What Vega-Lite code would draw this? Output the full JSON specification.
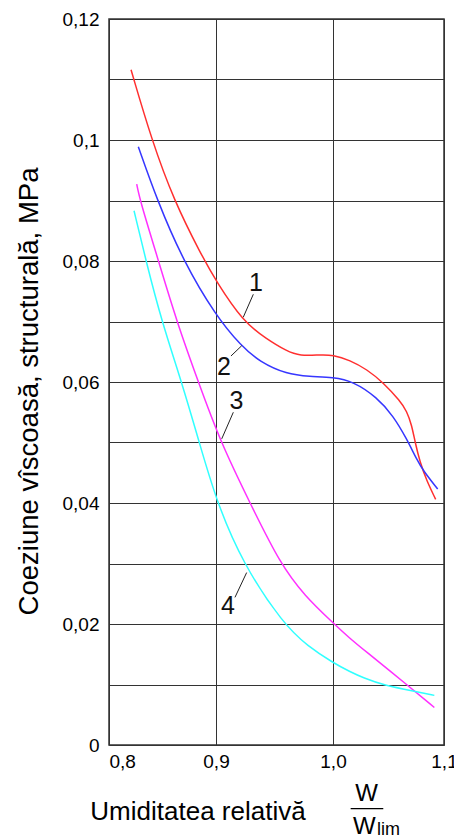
{
  "$schema": "https://vega.github.io/schema/vega-lite/v6.json",
  "width": 335,
  "height": 726,
  "autosize": "none",
  "padding": {"left": 109, "top": 19, "right": 10, "bottom": 92},
  "background": "white",
  "config": {"font": "Liberation Sans", "view": {"stroke": "#333", "strokeWidth": 1.5}},
  "datasets": {
    "curves": [
      {"c": "1", "x": 0.8206, "y": 0.1116}, {"c": "1", "x": 0.8399, "y": 0.1}, {"c": "1", "x": 0.8607, "y": 0.09},
      {"c": "1", "x": 0.886, "y": 0.0811}, {"c": "1", "x": 0.9, "y": 0.0767}, {"c": "1", "x": 0.9231, "y": 0.07},
      {"c": "1", "x": 0.9433, "y": 0.0671}, {"c": "1", "x": 0.9604, "y": 0.0651}, {"c": "1", "x": 0.9718, "y": 0.0643},
      {"c": "1", "x": 0.9889, "y": 0.0645}, {"c": "1", "x": 1.0, "y": 0.0645}, {"c": "1", "x": 1.0153, "y": 0.0636},
      {"c": "1", "x": 1.0304, "y": 0.0621}, {"c": "1", "x": 1.0453, "y": 0.0599}, {"c": "1", "x": 1.0607, "y": 0.0568},
      {"c": "1", "x": 1.0664, "y": 0.0552}, {"c": "1", "x": 1.0709, "y": 0.0529}, {"c": "1", "x": 1.0739, "y": 0.0501},
      {"c": "1", "x": 1.0784, "y": 0.0467}, {"c": "1", "x": 1.0844, "y": 0.0437}, {"c": "1", "x": 1.0925, "y": 0.0406},
      {"c": "2", "x": 0.8274, "y": 0.0989}, {"c": "2", "x": 0.8451, "y": 0.09}, {"c": "2", "x": 0.8694, "y": 0.08},
      {"c": "2", "x": 0.9, "y": 0.0709}, {"c": "2", "x": 0.9214, "y": 0.066}, {"c": "2", "x": 0.9376, "y": 0.0633},
      {"c": "2", "x": 0.9604, "y": 0.0613}, {"c": "2", "x": 0.98, "y": 0.0609}, {"c": "2", "x": 1.0, "y": 0.0608},
      {"c": "2", "x": 1.0183, "y": 0.0601}, {"c": "2", "x": 1.0394, "y": 0.0575}, {"c": "2", "x": 1.0543, "y": 0.0544},
      {"c": "2", "x": 1.0664, "y": 0.0506}, {"c": "2", "x": 1.0754, "y": 0.0472}, {"c": "2", "x": 1.0814, "y": 0.0453},
      {"c": "2", "x": 1.0943, "y": 0.0423},
      {"c": "3", "x": 0.8259, "y": 0.0927}, {"c": "3", "x": 0.829, "y": 0.09}, {"c": "3", "x": 0.8461, "y": 0.0801},
      {"c": "3", "x": 0.8633, "y": 0.07}, {"c": "3", "x": 0.8835, "y": 0.06}, {"c": "3", "x": 0.904, "y": 0.05},
      {"c": "3", "x": 0.9291, "y": 0.04}, {"c": "3", "x": 0.9547, "y": 0.03}, {"c": "3", "x": 0.976, "y": 0.0246},
      {"c": "3", "x": 1.0, "y": 0.0202}, {"c": "3", "x": 1.0153, "y": 0.0176}, {"c": "3", "x": 1.0273, "y": 0.0158},
      {"c": "3", "x": 1.0664, "y": 0.01}, {"c": "3", "x": 1.0913, "y": 0.0062},
      {"c": "4", "x": 0.8234, "y": 0.0883}, {"c": "4", "x": 0.8346, "y": 0.08}, {"c": "4", "x": 0.8493, "y": 0.07},
      {"c": "4", "x": 0.8679, "y": 0.06}, {"c": "4", "x": 0.8844, "y": 0.05}, {"c": "4", "x": 0.9, "y": 0.0405},
      {"c": "4", "x": 0.9228, "y": 0.03}, {"c": "4", "x": 0.9575, "y": 0.02}, {"c": "4", "x": 0.9786, "y": 0.0163},
      {"c": "4", "x": 1.0, "y": 0.0136}, {"c": "4", "x": 1.0153, "y": 0.0121}, {"c": "4", "x": 1.0273, "y": 0.0111},
      {"c": "4", "x": 1.0453, "y": 0.0099}, {"c": "4", "x": 1.0754, "y": 0.0088}, {"c": "4", "x": 1.0913, "y": 0.0082}
    ],
    "leaders": [
      {"x1": 0.9233, "y1": 0.0707, "x2": 0.9319, "y2": 0.0745},
      {"x1": 0.9128, "y1": 0.0643, "x2": 0.922, "y2": 0.066},
      {"x1": 0.9049, "y1": 0.0506, "x2": 0.9148, "y2": 0.055},
      {"x1": 0.9162, "y1": 0.0244, "x2": 0.9262, "y2": 0.0285}
    ],
    "labels": [
      {"t": "1", "x": 0.9342, "y": 0.0764},
      {"t": "2", "x": 0.9068, "y": 0.0625},
      {"t": "3", "x": 0.9175, "y": 0.0568},
      {"t": "4", "x": 0.9103, "y": 0.0229}
    ],
    "fracTop": [{"t": "W", "x": 1.0302, "y": -0.00926}],
    "fracBottom": [{"t": "W", "x": 1.018, "y": -0.01477}],
    "fracSub": [{"t": "lim", "x": 1.0396, "y": -0.0149}],
    "fracLine": [{"x1": 1.0159, "x2": 1.0453, "y": -0.01052}]
  },
  "layer": [
    {
      "data": {"name": "curves"},
      "mark": {"type": "line", "interpolate": "basis", "strokeWidth": 1.5},
      "encoding": {
        "x": {
          "field": "x", "type": "quantitative",
          "scale": {"type": "linear", "domain": [0.8, 0.9, 1.0, 1.1], "range": [0, 107, 224, 335], "nice": false, "zero": false},
          "axis": {
            "values": [0.8, 0.9, 1.0, 1.1],
            "labelExpr": "replace(format(datum.value, '.1f'), '.', ',')",
            "grid": true, "gridColor": "#333", "gridWidth": 1,
            "domain": false, "ticks": false, "tickSize": 0,
            "labelPadding": 7, "labelFontSize": 19, "labelColor": "#000",
            "labelFlush": false,
            "labelAlign": {"condition": {"test": "datum.value < 0.85", "value": "left"}, "value": "center"},
            "title": "Umiditatea relativă", "titleFontSize": 26, "titleFontWeight": "normal", "titleColor": "#000",
            "titleX": 88.5, "titleY": 74, "titleAlign": "center", "titleBaseline": "alphabetic"
          }
        },
        "y": {
          "field": "y", "type": "quantitative",
          "scale": {"domain": [0, 0.12], "nice": false},
          "axis": {
            "values": [0, 0.01, 0.02, 0.03, 0.04, 0.05, 0.06, 0.07, 0.08, 0.09, 0.1, 0.11, 0.12],
            "labelExpr": "round(datum.value * 100) % 2 == 0 ? replace(format(datum.value, '~g'), '.', ',') : ''",
            "grid": true, "gridColor": "#333", "gridWidth": 1,
            "domain": false, "ticks": false, "tickSize": 0,
            "labelPadding": 10, "labelFontSize": 19, "labelColor": "#000",
            "title": "Coeziune vîscoasă, structurală, MPa", "titleFontSize": 27.5, "titleFontWeight": "normal", "titleColor": "#000",
            "titleAngle": 270, "titleX": -72, "titleY": 372, "titleAlign": "center", "titleBaseline": "alphabetic"
          }
        },
        "color": {
          "field": "c", "type": "nominal",
          "scale": {"domain": ["1", "2", "3", "4"], "range": ["#ff2f2f", "#3636ff", "#ff30ff", "#30ffff"]},
          "legend": null
        }
      }
    },
    {
      "data": {"name": "leaders"},
      "mark": {"type": "rule", "color": "#222", "strokeWidth": 1},
      "encoding": {
        "x": {"field": "x1", "type": "quantitative"},
        "y": {"field": "y1", "type": "quantitative"},
        "x2": {"field": "x2"},
        "y2": {"field": "y2"}
      }
    },
    {
      "data": {"name": "labels"},
      "mark": {"type": "text", "fontSize": 25, "align": "center", "baseline": "middle", "color": "#111"},
      "encoding": {
        "x": {"field": "x", "type": "quantitative"},
        "y": {"field": "y", "type": "quantitative"},
        "text": {"field": "t"}
      }
    },
    {
      "data": {"name": "fracTop"},
      "mark": {"type": "text", "fontSize": 24, "align": "center", "baseline": "alphabetic", "color": "#000"},
      "encoding": {
        "x": {"field": "x", "type": "quantitative"},
        "y": {"field": "y", "type": "quantitative"},
        "text": {"field": "t"}
      }
    },
    {
      "data": {"name": "fracBottom"},
      "mark": {"type": "text", "fontSize": 24, "align": "left", "baseline": "alphabetic", "color": "#000"},
      "encoding": {
        "x": {"field": "x", "type": "quantitative"},
        "y": {"field": "y", "type": "quantitative"},
        "text": {"field": "t"}
      }
    },
    {
      "data": {"name": "fracSub"},
      "mark": {"type": "text", "fontSize": 18, "align": "left", "baseline": "alphabetic", "color": "#000"},
      "encoding": {
        "x": {"field": "x", "type": "quantitative"},
        "y": {"field": "y", "type": "quantitative"},
        "text": {"field": "t"}
      }
    },
    {
      "data": {"name": "fracLine"},
      "mark": {"type": "rule", "color": "#000", "strokeWidth": 1.2},
      "encoding": {
        "x": {"field": "x1", "type": "quantitative"},
        "x2": {"field": "x2"},
        "y": {"field": "y", "type": "quantitative"}
      }
    }
  ]
}
